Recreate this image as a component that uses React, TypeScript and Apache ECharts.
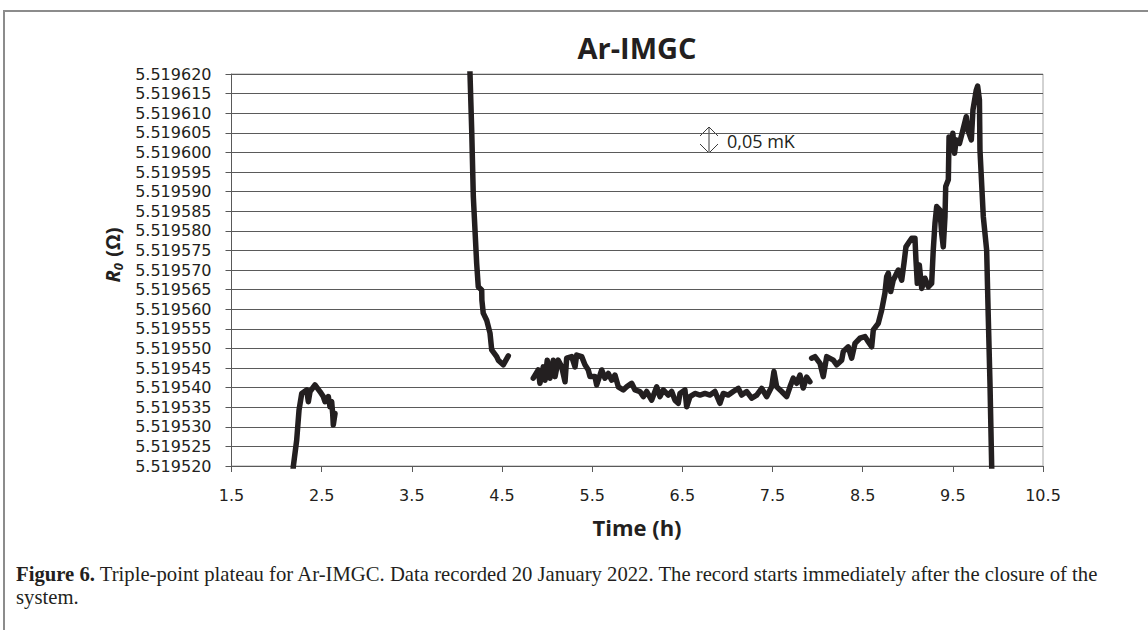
import React, { useEffect, useRef } from "react";
import * as echarts from "echarts";

// Time (h) / R0 (Ω) readings, first short record
const firstRun: [number, number][] = [
  [2.178, 5.5195165], [2.185, 5.5195198], [2.223, 5.5195266], [2.249, 5.5195343],
  [2.279, 5.5195385], [2.334, 5.5195394], [2.352, 5.5195364], [2.371, 5.519539],
  [2.426, 5.5195407], [2.481, 5.519539], [2.518, 5.5195377], [2.537, 5.5195364],
  [2.574, 5.5195377], [2.592, 5.5195351], [2.611, 5.5195364], [2.622, 5.5195334],
  [2.629, 5.5195305], [2.648, 5.5195334],
];

// after closure: fast decay
const decayRun: [number, number][] = [
  [4.128, 5.519639], [4.145, 5.5196202], [4.164, 5.5196057], [4.182, 5.5195887],
  [4.219, 5.5195717], [4.237, 5.5195657], [4.275, 5.5195649], [4.277, 5.5195623],
  [4.292, 5.519559], [4.33, 5.5195572], [4.367, 5.5195539], [4.386, 5.5195496],
  [4.441, 5.5195479], [4.459, 5.519547], [4.514, 5.5195458], [4.57, 5.5195481],
];

// plateau
const plateauRun: [number, number][] = [
  [4.847, 5.5195424], [4.902, 5.5195445], [4.921, 5.5195411], [4.958, 5.5195453],
  [4.977, 5.5195419], [5.002, 5.519547], [5.032, 5.5195424], [5.069, 5.519547],
  [5.088, 5.5195428], [5.124, 5.519547], [5.162, 5.5195453], [5.199, 5.5195415],
  [5.217, 5.5195475], [5.273, 5.5195479], [5.31, 5.5195453], [5.328, 5.5195483],
  [5.384, 5.5195479], [5.42, 5.5195458], [5.457, 5.5195445], [5.476, 5.5195428],
  [5.531, 5.5195428], [5.55, 5.5195407], [5.606, 5.5195445], [5.642, 5.5195424],
  [5.679, 5.5195436], [5.717, 5.5195419], [5.753, 5.5195432], [5.79, 5.5195402],
  [5.845, 5.5195394], [5.883, 5.5195402], [5.938, 5.5195411], [5.975, 5.5195394],
  [6.03, 5.519539], [6.067, 5.5195377], [6.105, 5.519539], [6.16, 5.5195368],
  [6.216, 5.5195402], [6.252, 5.5195377], [6.289, 5.5195394], [6.344, 5.5195381],
  [6.382, 5.519539], [6.418, 5.5195368], [6.455, 5.519536], [6.474, 5.5195385],
  [6.529, 5.5195394], [6.548, 5.5195351], [6.585, 5.5195377], [6.64, 5.5195385],
  [6.696, 5.5195381], [6.751, 5.5195385], [6.807, 5.5195381], [6.862, 5.519539],
  [6.917, 5.519536], [6.954, 5.5195385], [7.01, 5.5195381], [7.065, 5.519539],
  [7.121, 5.5195398], [7.158, 5.5195381], [7.214, 5.519539], [7.269, 5.5195373],
  [7.325, 5.5195381], [7.38, 5.5195398], [7.435, 5.5195377], [7.491, 5.5195402],
  [7.516, 5.5195441], [7.546, 5.5195402], [7.602, 5.519539], [7.657, 5.5195377],
  [7.694, 5.5195402], [7.73, 5.5195424], [7.768, 5.5195411], [7.805, 5.5195432],
  [7.841, 5.5195399], [7.879, 5.5195427], [7.915, 5.5195415],
];

// end of plateau and melting rise
const riseRun: [number, number][] = [
  [7.934, 5.5195475], [7.971, 5.5195479], [8.027, 5.5195462], [8.063, 5.5195428],
  [8.101, 5.5195479], [8.174, 5.519547], [8.212, 5.5195458], [8.267, 5.519547],
  [8.285, 5.5195492], [8.34, 5.5195504], [8.378, 5.5195475], [8.415, 5.5195513],
  [8.47, 5.5195526], [8.526, 5.519553], [8.562, 5.5195517], [8.6, 5.5195504],
  [8.618, 5.5195547], [8.673, 5.5195564], [8.711, 5.5195598], [8.747, 5.5195641],
  [8.766, 5.5195683], [8.784, 5.5195692], [8.811, 5.5195645], [8.839, 5.5195674],
  [8.895, 5.51957], [8.933, 5.5195674], [8.958, 5.5195717], [8.98, 5.5195759],
  [9.006, 5.5195768], [9.044, 5.5195781], [9.08, 5.5195781], [9.091, 5.5195726],
  [9.106, 5.5195666], [9.128, 5.5195713], [9.155, 5.5195653], [9.191, 5.5195679],
  [9.228, 5.5195657], [9.265, 5.5195666], [9.283, 5.5195751], [9.302, 5.5195819],
  [9.321, 5.5195862], [9.357, 5.5195853], [9.376, 5.5195794], [9.394, 5.5195759],
  [9.413, 5.5195836], [9.421, 5.5195913], [9.45, 5.519593], [9.458, 5.5196039],
  [9.482, 5.5196006], [9.5, 5.5196049], [9.519, 5.5195998], [9.538, 5.5196032],
  [9.574, 5.5196023], [9.612, 5.5196057], [9.649, 5.5196091], [9.667, 5.5196057],
  [9.705, 5.5196032], [9.723, 5.5196108], [9.76, 5.5196159], [9.775, 5.5196169],
  [9.795, 5.5196134], [9.801, 5.5196006], [9.838, 5.5195836], [9.875, 5.5195751],
  [9.893, 5.5195581], [9.912, 5.5195411], [9.931, 5.5195198], [9.94, 5.519506],
];

const xMin = 1.5;
const xMax = 10.5;
const xStep = 1;
const yMin = 5.51952;
const yMax = 5.51962;
const yStep = 0.000005;

const titleText = "Ar-IMGC";
const xName = "Time (h)";
const noteText = "0,05 mK";
const captionBold = "Figure 6.";
const captionLine1 = " Triple-point plateau for Ar-IMGC. Data recorded 20 January 2022. The record starts immediately after the closure of the";
const captionLine2 = "system.";

const SANS = "'Open Sans', 'Noto Sans', sans-serif";
const TICK = "'DejaVu Sans', 'Open Sans', sans-serif";
const SERIF = "'Liberation Serif', 'DejaVu Serif', serif";
const INK = "#231f20";

export default function App() {
  const ref = useRef<HTMLDivElement>(null);

  useEffect(() => {
    if (!ref.current) return;
    const chart = echarts.init(ref.current, null, { renderer: "svg" });

    const lineSeries = (data: [number, number][]) => ({
      type: "line",
      data,
      symbol: "none",
      showSymbol: false,
      clip: true,
      silent: true,
      lineStyle: { color: INK, width: 5.5, cap: "round", join: "round" },
    });

    const arrowStyle = { stroke: "#3c3c3c", lineWidth: 1, fill: "none" };

    chart.setOption({
      animation: false,
      grid: {
        left: 231.5,
        right: 105,
        top: 74,
        bottom: 164,
        show: true,
        borderColor: "#a6a6a6",
        borderWidth: 1,
        backgroundColor: "transparent",
      },
      xAxis: {
        type: "value",
        min: xMin,
        max: xMax,
        interval: xStep,
        axisLine: { show: true, lineStyle: { color: "#595959", width: 1 } },
        axisTick: { show: true, length: 6, lineStyle: { color: "#595959" } },
        splitLine: { show: false },
        axisLabel: {
          formatter: (v: number) => v.toFixed(1),
          fontSize: 16,
          fontFamily: TICK,
          color: INK,
          margin: 21,
        },
      },
      yAxis: {
        type: "value",
        min: yMin,
        max: yMax,
        interval: yStep,
        axisLine: { show: true, lineStyle: { color: "#595959", width: 1 } },
        axisTick: { show: true, length: 6, lineStyle: { color: "#595959" } },
        splitLine: { show: true, lineStyle: { color: "#5a5a5a", width: 1 } },
        axisLabel: {
          formatter: (v: number) => v.toFixed(6),
          fontSize: 16,
          lineHeight: 16,
          fontFamily: TICK,
          color: INK,
          margin: 20,
        },
      },
      series: [
        lineSeries(firstRun),
        lineSeries(decayRun),
        lineSeries(plateauRun),
        lineSeries(riseRun),
      ],
      graphic: [
        {
          type: "rect",
          silent: true,
          shape: { x: 4, y: 11, width: 1400, height: 900 },
          style: { fill: "none", stroke: "#8c8c8c", lineWidth: 2 },
        },
        {
          type: "text",
          x: 637,
          y: 47,
          style: {
            text: titleText,
            align: "center",
            verticalAlign: "middle",
            fontSize: 29,
            fontWeight: "bold",
            fontFamily: SANS,
            fill: INK,
          },
        },
        {
          type: "text",
          x: 637,
          y: 527,
          style: {
            text: xName,
            align: "center",
            verticalAlign: "middle",
            fontSize: 22,
            fontWeight: "bold",
            fontFamily: SANS,
            fill: INK,
          },
        },
        {
          type: "text",
          x: 112,
          y: 255,
          rotation: Math.PI / 2,
          style: {
            text: "{r|R}{s|0}{n| (Ω)}",
            align: "center",
            verticalAlign: "middle",
            fill: INK,
            rich: {
              r: { fontSize: 20, fontWeight: "bold", fontStyle: "italic", fontFamily: SANS, fill: INK, lineHeight: 24 },
              s: { fontSize: 13, fontWeight: "bold", fontStyle: "italic", fontFamily: SANS, fill: INK, lineHeight: 24, verticalAlign: "bottom", padding: [8, 1, 0, 0] },
              n: { fontSize: 20, fontWeight: "bold", fontFamily: SANS, fill: INK, lineHeight: 24 },
            },
          },
        },
        {
          type: "polyline",
          silent: true,
          shape: { points: [[709, 127], [709, 153]] },
          style: arrowStyle,
        },
        {
          type: "polyline",
          silent: true,
          shape: { points: [[700, 136], [709, 127], [718, 136]] },
          style: arrowStyle,
        },
        {
          type: "polyline",
          silent: true,
          shape: { points: [[700, 144], [709, 153], [718, 144]] },
          style: arrowStyle,
        },
        {
          type: "text",
          x: 727,
          y: 141,
          style: {
            text: noteText,
            align: "left",
            verticalAlign: "middle",
            fontSize: 18,
            fontFamily: SANS,
            fill: INK,
          },
        },
        {
          type: "text",
          x: 16,
          y: 574,
          scaleX: 1.035,
          style: {
            text: "{b|" + captionBold + "}{n|" + captionLine1 + "}",
            align: "left",
            verticalAlign: "middle",
            rich: {
              b: { fontSize: 20, fontWeight: "bold", fontFamily: SERIF, fill: INK },
              n: { fontSize: 20, fontFamily: SERIF, fill: INK },
            },
          },
        },
        {
          type: "text",
          x: 16,
          y: 597,
          scaleX: 1.035,
          style: {
            text: captionLine2,
            align: "left",
            verticalAlign: "middle",
            fontSize: 20,
            fontFamily: SERIF,
            fill: INK,
          },
        },
      ],
    });

    return () => chart.dispose();
  }, []);

  return (
    <div
      ref={ref}
      style={{ position: "absolute", left: 0, top: 0, width: 1148, height: 630 }}
    />
  );
}
